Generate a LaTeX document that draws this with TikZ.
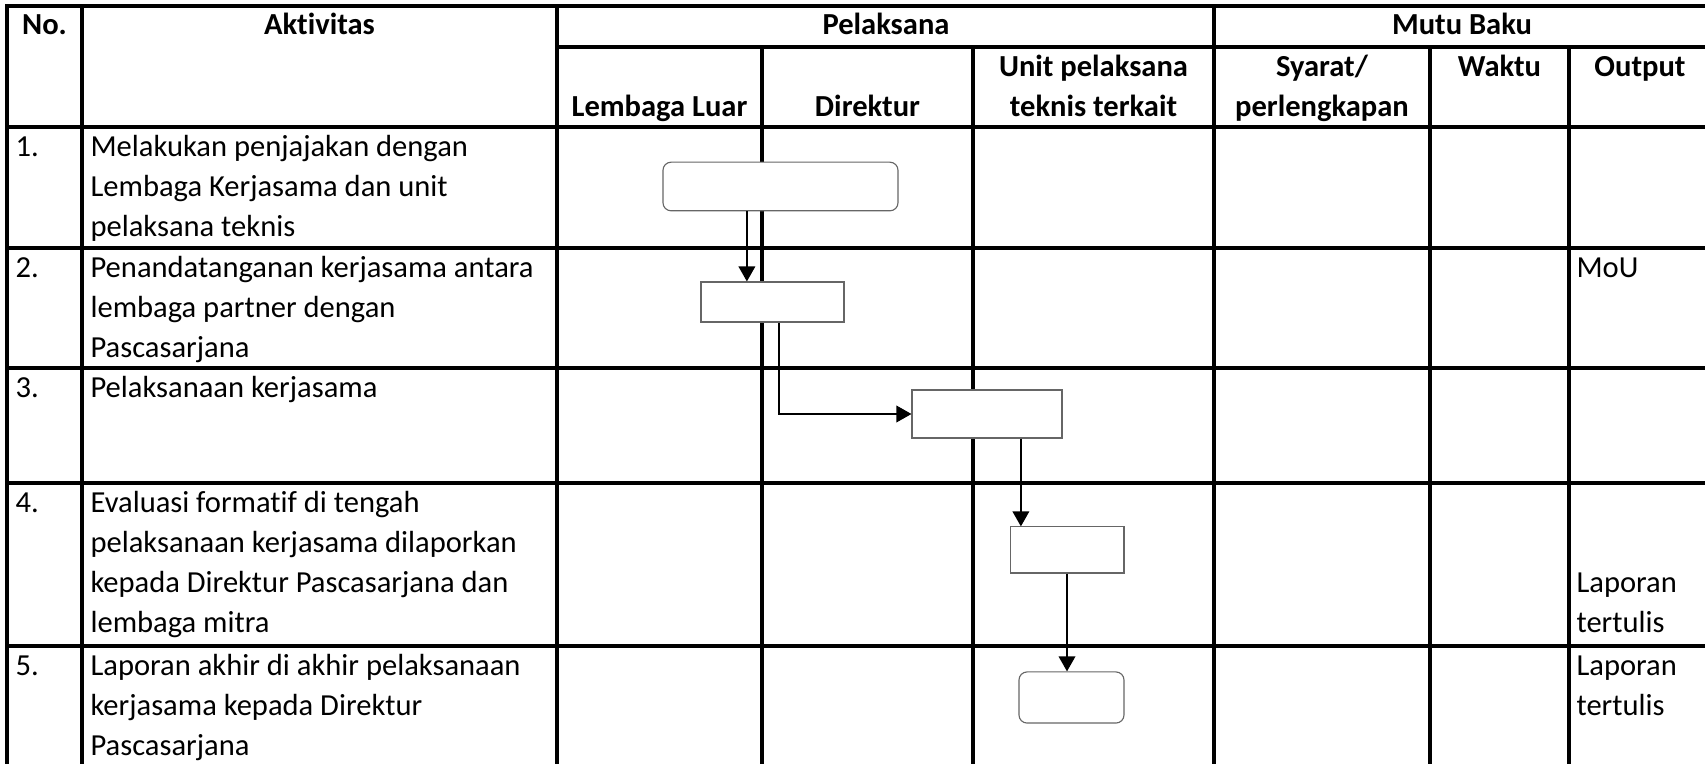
\documentclass[tikz,border=0pt]{standalone}
\usepackage{fontspec}
\setmainfont{Carlito}[Ligatures=CommonOff]
\usetikzlibrary{arrows.meta,positioning}

\begin{document}
\begin{tikzpicture}[
  x=0.36pt, y=-0.36pt,
  font=\fontsize{11}{14.4}\selectfont,
  >={Triangle[length=5.4pt,width=6pt]},
  grid/.style={line width=1.3pt,line cap=rect},
  head/.style={font=\fontsize{11}{14.4}\selectfont\bfseries,inner sep=0pt,anchor=base},
  cell/.style={align=left,inner sep=0pt,anchor=base west},
  act/.style={draw=black!60,line width=0.4pt,fill=white,inner sep=0pt},
  term/.style={act,rounded corners=2.9pt},
  flow/.style={->,line width=0.5pt},
]
\useasboundingbox (0,0) rectangle (1705,764);
\clip (0,0) rectangle (1705,764);

% ---- table grid ----
\draw[grid] (7,6) -- (1712,6);
\draw[grid] (557,47) -- (1712,47);
\foreach \y in {127,248,368,483,646}
  \draw[grid] (7,\y) -- (1712,\y);
\foreach \x in {7,82,557,1214}
  \draw[grid] (\x,6) -- (\x,780);
\foreach \x in {762,973,1430,1569}
  \draw[grid] (\x,47) -- (\x,780);

% ---- header (multi-line nodes sit on their last baseline) ----
\node[head] (hno)    at (44.5,35)  {No.};
\node[head] (hakt)   at (319.5,35) {Aktivitas};
\node[head] (hpel)   at (886,35)   {Pelaksana};
\node[head] (hmutu)  at (1462,35)  {Mutu Baku};
\node[head] (hluar)  at (659.5,117) {Lembaga Luar};
\node[head] (hdir)   at (867.5,117) {Direktur};
\node[head,align=center] (hunit)   at (1093.5,117) {Unit pelaksana\\teknis terkait};
\node[head,align=center] (hsyarat) at (1322,117)   {Syarat/\\perlengkapan};
\node[head] (hwaktu) at (1499.5,77) {Waktu};
\node[head] (hout)   at (1640,77)   {Output};

% ---- rows: number, activity, output ----
\node[cell] (no1) at (15,157) {1.};
\node[cell] (akt1) at (90,237) {Melakukan penjajakan dengan\\Lembaga Kerjasama dan unit\\pelaksana teknis};
\node[cell] (no2) at (15,278) {2.};
\node[cell] (akt2) at (90,358) {Penandatanganan kerjasama antara\\lembaga partner dengan\\Pascasarjana};
\node[cell] (out2) at (1576,278) {MoU};
\node[cell] (no3) at (15,398) {3.};
\node[cell] (akt3) at (90,398) {Pelaksanaan kerjasama};
\node[cell] (no4) at (15,513) {4.};
\node[cell] (akt4) at (90,633) {Evaluasi formatif di tengah\\pelaksanaan kerjasama dilaporkan\\kepada Direktur Pascasarjana dan\\lembaga mitra};
\node[cell] (out4) at (1576,633) {Laporan\\tertulis};
\node[cell] (no5) at (15,676) {5.};
\node[cell] (akt5) at (90,756) {Laporan akhir di akhir pelaksanaan\\kerjasama kepada Direktur\\Pascasarjana};
\node[cell] (out5) at (1576,716) {Laporan\\tertulis};

% ---- flow shapes ----
\node[term,minimum width=84.6pt,minimum height=17.5pt] (penjajakan) at (780.5,186.5) {};
\node[act,minimum width=51.5pt,minimum height=14.4pt]  (ttd)        at (772.5,302) {};
\node[act,minimum width=54pt,minimum height=17.3pt]    (laksana)    at (987,414)   {};
\node[act,minimum width=41pt,minimum height=16.6pt]    (evaluasi)   at (1067,550)  {};
\node[term,minimum width=37.8pt,minimum height=18.4pt] (akhir)      at (1071.5,697.5) {};

% ---- connectors ----
\draw[flow] ([xshift=-12.1pt]penjajakan.south) -- ([xshift=-12.1pt]penjajakan.south |- ttd.north);
\draw[flow] ([xshift=2.3pt]ttd.south) |- (laksana.west);
\draw[flow] ([xshift=12.2pt]laksana.south) -- ([xshift=12.2pt]laksana.south |- evaluasi.north);
\draw[flow] (evaluasi.south) -- (evaluasi.south |- akhir.north);

\end{tikzpicture}
\end{document}
